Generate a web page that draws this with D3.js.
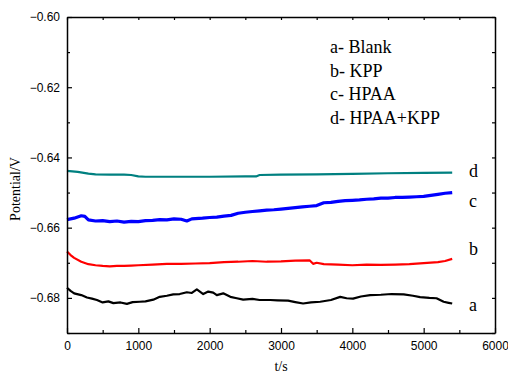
<!DOCTYPE html>
<html>
<head>
<meta charset="utf-8">
<script src="https://cdn.jsdelivr.net/npm/d3@7"></script>
<style>
  html, body { margin: 0; padding: 0; background: #fff; }
  svg { display: block; }
</style>
</head>
<body>
<svg id="chart" width="508" height="374"></svg>
<script>
// Open-circuit potential vs. time for four solutions
const seriesA_t = [0,50,100,200,280,350,420,500,580,650,750,840,920,1020,1100,1210,1300,1400,1490,1580,1680,1750,1820,1910,1980,2050,2100,2190,2290,2380,2470,2600,2700,2850,2950,3100,3200,3310,3420,3550,3700,3830,3920,4010,4120,4250,4400,4550,4720,4850,4950,5080,5180,5280,5350,5400];
const seriesA_v = [-0.6771,-0.6780,-0.6787,-0.6792,-0.6799,-0.6802,-0.6806,-0.6813,-0.6810,-0.6815,-0.6813,-0.6817,-0.6812,-0.6811,-0.6810,-0.6805,-0.6797,-0.6794,-0.6790,-0.6789,-0.6784,-0.6786,-0.6776,-0.6789,-0.6782,-0.6785,-0.6792,-0.6787,-0.6797,-0.6801,-0.6805,-0.6803,-0.6806,-0.6806,-0.6807,-0.6808,-0.6812,-0.6816,-0.6813,-0.6811,-0.6806,-0.6797,-0.6801,-0.6802,-0.6796,-0.6792,-0.6791,-0.6789,-0.6790,-0.6794,-0.6798,-0.6800,-0.6801,-0.6811,-0.6814,-0.6816];

const seriesB_t = [0,50,100,200,300,400,500,600,700,800,900,1000,1200,1400,1600,1800,2000,2200,2400,2600,2800,3000,3200,3400,3450,3500,3600,3800,4000,4200,4400,4600,4800,5000,5200,5300,5400];
const seriesB_v = [-0.6668,-0.6678,-0.6686,-0.6697,-0.6704,-0.6707,-0.6709,-0.6710,-0.6709,-0.6709,-0.6708,-0.6707,-0.6705,-0.6703,-0.6703,-0.6702,-0.6701,-0.6698,-0.6697,-0.6695,-0.6697,-0.6696,-0.6694,-0.6693,-0.6703,-0.6700,-0.6704,-0.6705,-0.6707,-0.6705,-0.6706,-0.6705,-0.6704,-0.6701,-0.6698,-0.6695,-0.6689];

const seriesC_t = [0,100,200,250,300,400,500,600,700,800,900,1000,1100,1200,1300,1400,1500,1600,1680,1750,1800,1900,2000,2100,2200,2300,2400,2500,2600,2700,2800,2900,3000,3100,3200,3300,3400,3500,3600,3700,3800,3900,4000,4100,4200,4300,4400,4500,4600,4700,4800,4900,5000,5100,5200,5300,5400];
const seriesC_v = [-0.6577,-0.6573,-0.6566,-0.6568,-0.6578,-0.6581,-0.6580,-0.6583,-0.6581,-0.6584,-0.6582,-0.6583,-0.6580,-0.6579,-0.6577,-0.6578,-0.6575,-0.6576,-0.6581,-0.6575,-0.6574,-0.6573,-0.6571,-0.6570,-0.6567,-0.6565,-0.6559,-0.6556,-0.6554,-0.6552,-0.6550,-0.6549,-0.6547,-0.6545,-0.6543,-0.6541,-0.6539,-0.6537,-0.6529,-0.6528,-0.6525,-0.6523,-0.6522,-0.6521,-0.6519,-0.6518,-0.6516,-0.6516,-0.6514,-0.6514,-0.6513,-0.6512,-0.6511,-0.6508,-0.6505,-0.6502,-0.6500];

const seriesD_t = [0,150,300,400,600,800,900,1000,1100,1500,2000,2500,2650,2700,3000,3500,4000,4500,5000,5400];
const seriesD_v = [-0.6438,-0.6441,-0.6446,-0.6448,-0.6449,-0.6449,-0.6450,-0.6454,-0.6455,-0.6455,-0.6455,-0.6454,-0.6454,-0.6450,-0.6449,-0.6448,-0.6447,-0.6445,-0.6444,-0.6443];

const curveKeys = ["a", "b", "c", "d"];
const curveColors = ["#000000", "#ff0000", "#0000ff", "#008080"];
const legendLabels = ["a- Blank", "b- KPP", "c- HPAA", "d- HPAA+KPP"];

const xTicks = [0, 1000, 2000, 3000, 4000, 5000, 6000];
const yTicks = [-0.60, -0.62, -0.64, -0.66, -0.68];
const xLabel = "t/s";
const yLabel = "Potential/V";

const series = [
  { key: "a", t: seriesA_t, v: seriesA_v, w: 2.2 },
  { key: "b", t: seriesB_t, v: seriesB_v, w: 2.2 },
  { key: "c", t: seriesC_t, v: seriesC_v, w: 3.2 },
  { key: "d", t: seriesD_t, v: seriesD_v, w: 2.2 }
];

const svg = d3.select("#chart");
const margin = { left: 67, top: 17, right: 13, bottom: 41 };
const W = 508, H = 374;
const iw = W - margin.left - margin.right;
const ih = H - margin.top - margin.bottom;

const x = d3.scaleLinear().domain([0, 6000]).range([margin.left, margin.left + iw]);
const y = d3.scaleLinear().domain([-0.69, -0.60]).range([margin.top + ih, margin.top]);

const g = svg.append("g");

// curves
const line = d3.line().x(d => x(d[0])).y(d => y(d[1]));
series.forEach((s, i) => {
  const pts = s.t.map((t, j) => [t, s.v[j]]);
  g.append("path")
    .datum(pts)
    .attr("fill", "none")
    .attr("stroke", curveColors[curveKeys.indexOf(s.key)])
    .attr("stroke-width", s.w)
    .attr("stroke-linejoin", "round")
    .attr("d", line);
});

// axes with inward ticks on all four sides
const tickFont = "'Liberation Sans', Arial, sans-serif";
const xMinor = d3.range(0, 6001, 500);
const yMinor = d3.range(0, 10).map(i => -0.60 - i * 0.01);

function styleAxis(sel) {
  sel.select(".domain").attr("stroke", "#000").attr("stroke-width", 1.5);
  sel.selectAll(".tick line").attr("stroke", "#000").attr("stroke-width", 1.2);
  sel.selectAll(".tick text").attr("fill", "#000").style("font-family", tickFont).style("font-size", "12px");
}

const xBottom = g.append("g").attr("transform", `translate(0,${margin.top + ih})`)
  .call(d3.axisBottom(x).tickValues(xMinor).tickSizeInner(-5).tickSizeOuter(0)
    .tickFormat(d => xTicks.includes(d) ? d3.format("d")(d) : ""));
xBottom.selectAll(".tick").filter(d => !xTicks.includes(d)).select("line").attr("y2", -3);
xBottom.selectAll(".tick text").attr("dy", "0").attr("y", 17);
styleAxis(xBottom);

const xTop = g.append("g").attr("transform", `translate(0,${margin.top})`)
  .call(d3.axisTop(x).tickValues(xMinor).tickSizeInner(-3).tickSizeOuter(0).tickFormat(""));
styleAxis(xTop);

const yLeft = g.append("g").attr("transform", `translate(${margin.left},0)`)
  .call(d3.axisLeft(y).tickValues(yMinor).tickSizeInner(-5).tickSizeOuter(0)
    .tickFormat(d => yTicks.some(t => Math.abs(t - d) < 1e-9) ? d3.format(".2f")(d) : ""));
yLeft.selectAll(".tick").filter(d => !yTicks.some(t => Math.abs(t - d) < 1e-9)).select("line").attr("x2", 3);
yLeft.selectAll(".tick text").attr("x", -7);
styleAxis(yLeft);

const yRight = g.append("g").attr("transform", `translate(${margin.left + iw},0)`)
  .call(d3.axisRight(y).tickValues(yMinor).tickSizeInner(-3).tickSizeOuter(0).tickFormat(""));
styleAxis(yRight);

// axis titles
const serif = "'Liberation Serif', 'Times New Roman', serif";
svg.append("text")
  .attr("x", x(3000)).attr("y", 371)
  .attr("text-anchor", "middle")
  .style("font-family", serif).style("font-size", "14px")
  .text(xLabel);
svg.append("text")
  .attr("transform", `translate(20,${189}) rotate(-90)`)
  .attr("text-anchor", "middle")
  .style("font-family", serif).style("font-size", "14px")
  .text(yLabel);

// legend text
legendLabels.forEach((t, i) => {
  svg.append("text")
    .attr("x", 330).attr("y", 53 + i * 23.7)
    .style("font-family", serif).style("font-size", "18px")
    .attr("fill", "#000")
    .text(t);
});

// curve end labels, placed next to each curve's final value
const labelOffsets = { a: 7, b: -4, c: 14, d: 4 };
series.forEach(s => {
  const last = s.v[s.v.length - 1];
  svg.append("text")
    .attr("x", 469).attr("y", y(last) + labelOffsets[s.key])
    .style("font-family", serif).style("font-size", "18px")
    .attr("fill", "#000")
    .text(s.key);
});
</script>
</body>
</html>
